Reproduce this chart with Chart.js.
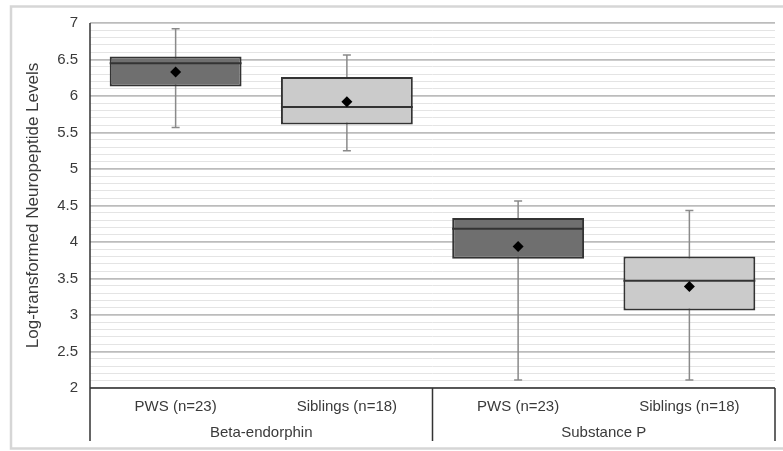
<!DOCTYPE html>
<html>
<head>
<meta charset="utf-8">
<script src="https://cdn.jsdelivr.net/npm/chart.js@4"></script>
<style>
html,body{margin:0;padding:0;background:#fff;}
#wrap{position:relative;width:783px;height:451px;}
</style>
</head>
<body>
<div id="wrap"><canvas id="c" width="783" height="451"></canvas></div>
<script>
const categories = ['PWS (n=23)', 'Siblings (n=18)', 'PWS (n=23)', 'Siblings (n=18)'];
const groups = ['Beta-endorphin', 'Substance P'];
const whiskerLow = [5.57, 5.25, 2.11, 2.11];
const q1 = [6.13, 5.61, 3.77, 3.06];
const median = [6.45, 5.85, 4.18, 3.47];
const q3 = [6.54, 6.26, 4.33, 3.80];
const whiskerHigh = [6.92, 6.56, 4.56, 4.43];
const mean = [6.33, 5.92, 3.94, 3.39];
const boxColors = ['#6f6f6f', '#cbcbcb', '#6f6f6f', '#cbcbcb'];

const FONT = 'Liberation Sans, Arial, sans-serif';
const TXT = '#3a3a3a';

const framePlugin = {
  id: 'frame',
  beforeDraw(chart) {
    const ctx = chart.ctx;
    ctx.save();
    ctx.fillStyle = '#fff';
    ctx.fillRect(0, 0, chart.width, chart.height);
    ctx.strokeStyle = '#d6d6d6';
    ctx.lineWidth = 2.5;
    ctx.strokeRect(11, 6.5, 800, 442);
    ctx.restore();
  }
};

const boxPlugin = {
  id: 'boxparts',
  beforeDatasetsDraw(chart) {
    const ctx = chart.ctx;
    const y = chart.scales.y;
    const meta = chart.getDatasetMeta(0);
    ctx.save();
    ctx.strokeStyle = '#8a8a8a';
    ctx.lineWidth = 1.5;
    meta.data.forEach((el, i) => {
      const x = el.x;
      const yl = y.getPixelForValue(whiskerLow[i]);
      const yh = y.getPixelForValue(whiskerHigh[i]);
      ctx.beginPath();
      ctx.moveTo(x, yl); ctx.lineTo(x, yh);
      ctx.moveTo(x - 4, yl); ctx.lineTo(x + 4, yl);
      ctx.moveTo(x - 4, yh); ctx.lineTo(x + 4, yh);
      ctx.stroke();
    });
    ctx.restore();
  },
  afterDatasetDraw(chart, args) {
    if (args.index !== 0) return;
    const ctx = chart.ctx;
    const y = chart.scales.y;
    ctx.save();
    ctx.strokeStyle = '#333';
    ctx.lineWidth = 2;
    args.meta.data.forEach((el, i) => {
      const ym = y.getPixelForValue(median[i]);
      ctx.beginPath();
      ctx.moveTo(el.x - el.width / 2, ym);
      ctx.lineTo(el.x + el.width / 2, ym);
      ctx.stroke();
    });
    ctx.restore();
  },
  afterDraw(chart) {
    const ctx = chart.ctx;
    const a = chart.chartArea;
    const x = chart.scales.x;
    const bottomExt = a.bottom + 53;
    const sep = (x.getPixelForValue(1) + x.getPixelForValue(2)) / 2;
    ctx.save();
    ctx.strokeStyle = '#333';
    ctx.lineWidth = 1.5;
    ctx.beginPath();
    ctx.moveTo(a.left, a.top); ctx.lineTo(a.left, bottomExt);
    ctx.moveTo(a.left, a.bottom); ctx.lineTo(a.right, a.bottom);
    ctx.moveTo(sep, a.bottom); ctx.lineTo(sep, bottomExt);
    ctx.moveTo(a.right, a.bottom); ctx.lineTo(a.right, bottomExt);
    ctx.stroke();
    ctx.fillStyle = TXT;
    ctx.font = '15px ' + FONT;
    ctx.textAlign = 'center';
    ctx.textBaseline = 'middle';
    groups.forEach((g, gi) => {
      const cx = (x.getPixelForValue(gi * 2) + x.getPixelForValue(gi * 2 + 1)) / 2;
      ctx.fillText(g, cx, a.bottom + 45);
    });
    ctx.restore();
  }
};

function isMajor(v) {
  return Math.abs(v * 2 - Math.round(v * 2)) < 1e-6;
}

new Chart(document.getElementById('c'), {
  type: 'bar',
  data: {
    labels: categories,
    datasets: [
      {
        type: 'bar',
        data: q1.map((v, i) => [v, q3[i]]),
        backgroundColor: boxColors,
        borderColor: '#333',
        borderWidth: 2,
        borderSkipped: false,
        barPercentage: 0.77,
        categoryPercentage: 1.0,
        order: 2
      },
      {
        type: 'line',
        data: mean,
        showLine: false,
        pointStyle: 'rectRot',
        pointRadius: 5.5,
        pointBackgroundColor: '#000',
        pointBorderColor: '#000',
        pointBorderWidth: 0,
        order: 1
      }
    ]
  },
  options: {
    responsive: false,
    animation: false,
    events: [],
    layout: { padding: { left: 0, right: 8, top: 23, bottom: 0 } },
    plugins: { legend: { display: false }, tooltip: { enabled: false } },
    scales: {
      x: {
        grid: { display: false },
        border: { display: false },
        ticks: { color: TXT, font: { family: FONT, size: 15 }, padding: 2, maxRotation: 0, autoSkip: false },
        afterFit(scale) { scale.height = 451 - 388; }
      },
      y: {
        min: 2, max: 7,
        border: { display: false },
        grid: {
          drawTicks: false,
          color: (c) => isMajor(c.tick.value) ? '#bcbcbc' : '#e4e4e4',
          lineWidth: (c) => isMajor(c.tick.value) ? 1.7 : 1
        },
        ticks: {
          stepSize: 0.1,
          autoSkip: false,
          padding: 12,
          color: TXT,
          font: { family: FONT, size: 15 },
          callback: (v) => isMajor(v) ? String(Math.round(v * 10) / 10) : ''
        },
        title: {
          display: true,
          text: 'Log-transformed Neuropeptide Levels',
          color: TXT,
          font: { family: FONT, size: 17 },
          padding: { top: 23, bottom: 0 }
        },
        afterFit(scale) { scale.width = 90; }
      }
    }
  },
  plugins: [framePlugin, boxPlugin]
});
</script>
</body>
</html>
